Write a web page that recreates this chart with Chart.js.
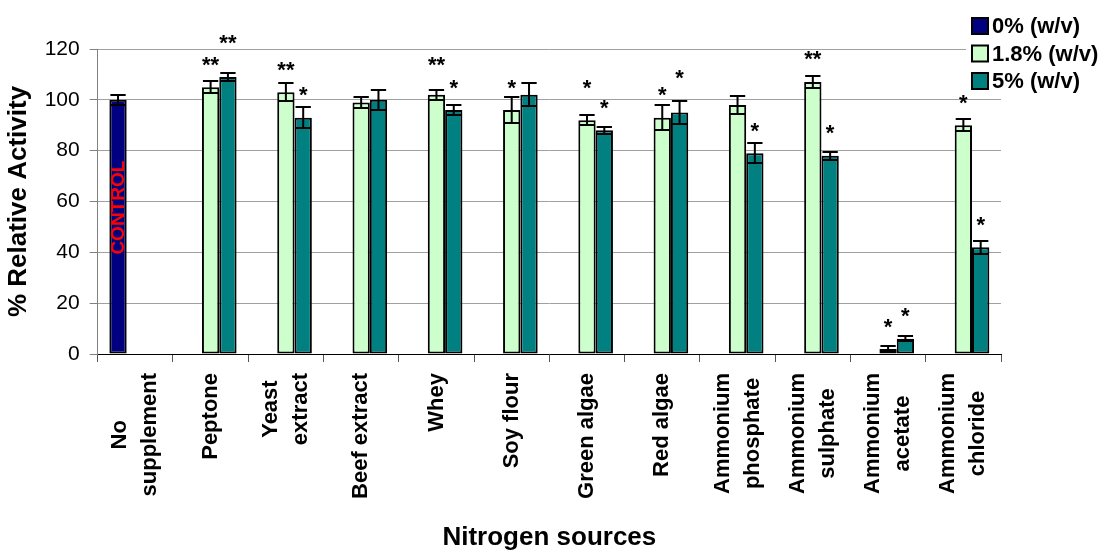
<!DOCTYPE html>
<html>
<head>
<meta charset="utf-8">
<title>Nitrogen sources – relative activity</title>
<script src="https://cdn.jsdelivr.net/npm/chart.js@4/dist/chart.umd.min.js"></script>
<style>
  html, body { margin: 0; padding: 0; background: #ffffff; }
  #wrap { width: 1105px; height: 553px; }
</style>
</head>
<body>
<div id="wrap"><canvas id="c" width="1105" height="553"></canvas></div>
<script>
// ---- data ----
const categories = [
  ["No", "supplement"], "Peptone", ["Yeast", "extract"], "Beef extract", "Whey",
  "Soy flour", "Green algae", "Red algae", ["Ammonium", "phosphate"],
  ["Ammonium", "sulphate"], ["Ammonium", "acetate"], ["Ammonium", "chloride"]
];
const seriesNames = ["0% (w/v)", "1.8% (w/v)", "5% (w/v)"];

const control    = [100, null, null, null, null, null, null, null, null, null, null, null];
const controlErr = [2,   null, null, null, null, null, null, null, null, null, null, null];

const conc18    = [null, 105, 103, 99, 102, 96, 92, 93, 98, 107, 2, 90];
const conc18Err = [null, 2.3, 3.5, 2.3, 2, 5, 2, 5, 3.5, 2.3, 1, 2.3];

const conc5    = [null, 109, 93, 100, 96, 102, 88, 95, 79, 78, 6, 42];
const conc5Err = [null, 1.5, 4, 4, 2, 4.5, 1.5, 4.7, 4, 1.5, 1, 2.5];

// significance marks above each bar
const sig0  = ["", "", "", "", "", "", "", "", "", "", "", ""];
const sig18 = ["", "**", "**", "", "**", "*", "*", "*", "", "**", "*", "*"];
const sig5  = ["", "**", "*", "", "*", "", "*", "*", "*", "*", "*", "*"];

const yTicks = [0, 20, 40, 60, 80, 100, 120];

// ---- styling ----
const FONT = '"Liberation Sans", Arial, Helvetica, sans-serif';
const colors = ["#000080", "#CCFFCC", "#008080"];

// gap (px) between the top of the error bar and each significance mark
const markGap = [
  [0, 0, 0, 0, 0, 0, 0, 0, 0, 0, 0, 0],
  [0, 22, 19, 0, 30, 15, 33, 16, 0, 23, 25, 22],
  [0, 36, 18, 0, 23, 0, 24, 28, 18, 25, 26, 22]
];

// error bars drawn over each bar
const errorBarsPlugin = {
  id: "errorBars",
  afterDatasetsDraw(chart) {
    const ctx = chart.ctx;
    const ys = chart.scales.y;
    ctx.save();
    ctx.strokeStyle = "#000";
    ctx.lineWidth = 2;
    chart.data.datasets.forEach((ds, i) => {
      const meta = chart.getDatasetMeta(i);
      meta.data.forEach((bar, j) => {
        const v = ds.data[j], e = ds.errors[j];
        if (v == null || e == null) return;
        const top = Math.round(ys.getPixelForValue(v + e));
        const bot = Math.round(ys.getPixelForValue(Math.max(v - e, 0)));
        const half = bar.width / 2 - 1;
        ctx.beginPath();
        ctx.moveTo(bar.x, top); ctx.lineTo(bar.x, bot);
        ctx.moveTo(bar.x - half, top); ctx.lineTo(bar.x + half, top);
        ctx.moveTo(bar.x - half, bot); ctx.lineTo(bar.x + half, bot);
        ctx.stroke();
      });
    });
    ctx.restore();
  }
};

// significance asterisks and the CONTROL tag inside the control bar
const marksPlugin = {
  id: "marks",
  afterDatasetsDraw(chart) {
    const ctx = chart.ctx;
    const ys = chart.scales.y;
    ctx.save();
    ctx.fillStyle = "#000";
    ctx.font = "bold 22px " + FONT;
    ctx.textAlign = "center";
    ctx.textBaseline = "alphabetic";
    chart.data.datasets.forEach((ds, i) => {
      const meta = chart.getDatasetMeta(i);
      meta.data.forEach((bar, j) => {
        const mark = ds.marks[j];
        if (!mark) return;
        const capY = ys.getPixelForValue(ds.data[j] + (ds.errors[j] || 0));
        const centerY = capY - markGap[i][j];
        ctx.fillText(mark, bar.x, centerY + 12.7);
      });
    });
    // CONTROL label, rotated, inside the first bar
    const bar = chart.getDatasetMeta(0).data[0];
    const cy = bar.y + (bar.base - bar.y) * 0.425;
    ctx.translate(bar.x + 1, cy);
    ctx.rotate(-Math.PI / 2);
    ctx.fillStyle = "#FF0000";
    ctx.font = "bold 19px " + FONT;
    ctx.textAlign = "center";
    ctx.textBaseline = "middle";
    ctx.fillText("CONTROL", 0, 0);
    ctx.restore();
  }
};

// vertical category labels: lines centred on each other and on the tick
const centredLabelsPlugin = {
  id: "centredLabels",
  beforeDraw(chart) {
    const sx = chart.scales.x;
    const items = sx.getLabelItems(chart.chartArea);
    const ctx = chart.ctx;
    items.forEach(item => {
      if (item._centred) return;
      const lines = Array.isArray(item.label) ? item.label : [item.label];
      ctx.save();
      ctx.font = item.font.string;
      const w = Math.max(...lines.map(l => ctx.measureText(l).width));
      ctx.restore();
      const lh = item.font.lineHeight;
      item.options.textAlign = "center";
      item.options.translation[1] += w / 2;
      item.options.translation[0] -= (lines.length - 1) * lh / 2;
      item._centred = true;
    });
  }
};

// legend box in the top-right corner
const legendPlugin = {
  id: "cornerLegend",
  afterDraw(chart) {
    const ctx = chart.ctx;
    ctx.save();
    ctx.fillStyle = "#fff";
    ctx.fillRect(966, 8, 139, 88);
    ctx.font = "bold 22px " + FONT;
    ctx.textBaseline = "middle";
    ctx.textAlign = "left";
    chart.data.datasets.forEach((ds, i) => {
      const cy = 26 + i * 27.5;
      ctx.fillStyle = ds.backgroundColor;
      ctx.fillRect(972, cy - 8, 16, 16);
      ctx.strokeStyle = "#000";
      ctx.lineWidth = 2;
      ctx.strokeRect(972, cy - 8, 16, 16);
      ctx.fillStyle = "#000";
      ctx.fillText(ds.label, 992, cy + 1);
    });
    ctx.restore();
  }
};

const ctx = document.getElementById("c").getContext("2d");
new Chart(ctx, {
  type: "bar",
  data: {
    labels: categories,
    datasets: [
      { label: seriesNames[0], data: control, errors: controlErr, marks: sig0, backgroundColor: colors[0] },
      { label: seriesNames[1], data: conc18, errors: conc18Err, marks: sig18, backgroundColor: colors[1] },
      { label: seriesNames[2], data: conc5, errors: conc5Err, marks: sig5, backgroundColor: colors[2] }
    ]
  },
  options: {
    responsive: false,
    animation: false,
    devicePixelRatio: 1,
    layout: { padding: { top: 49, right: 104, left: 0, bottom: 0 } },
    datasets: {
      bar: {
        borderColor: "#000",
        borderWidth: 2,
        borderSkipped: false,
        categoryPercentage: 0.69,
        barPercentage: 1
      }
    },
    plugins: {
      legend: { display: false },
      tooltip: { enabled: false }
    },
    scales: {
      x: {
        offset: true,
        grid: { display: true, drawOnChartArea: false, drawTicks: true, tickLength: 8, color: "#555", offset: true },
        border: { color: "#000", width: 1 },
        ticks: {
          color: "#000",
          autoSkip: false,
          minRotation: 90,
          maxRotation: 90,
          padding: 11,
          font: { family: FONT, size: 22, weight: "bold", lineHeight: 1.36 }
        },
        title: {
          display: true,
          text: "Nitrogen sources",
          color: "#000",
          font: { family: FONT, size: 26, weight: "bold", lineHeight: 1.2 },
          padding: { top: 0, bottom: 0 }
        },
        afterFit(scale) { scale.height = 199; }
      },
      y: {
        min: 0,
        max: 120,
        afterBuildTicks(scale) { scale.ticks = yTicks.map(v => ({ value: v })); },
        grid: {
          color: c => (c.tick && c.tick.value === 0 ? "rgba(0,0,0,0)" : "#a0a0a0"),
          tickColor: "#808080",
          tickLength: 8,
          lineWidth: 1
        },
        border: { color: "#808080", width: 1 },
        ticks: {
          color: "#000",
          padding: 10,
          font: { family: FONT, size: 21 }
        },
        title: {
          display: true,
          text: "% Relative Activity",
          color: "#000",
          font: { family: FONT, size: 26, weight: "bold", lineHeight: 1.2 },
          padding: { top: 3, bottom: 0 }
        },
        afterFit(scale) { scale.width = 97.7; }
      }
    }
  },
  plugins: [centredLabelsPlugin, errorBarsPlugin, marksPlugin, legendPlugin]
});
</script>
</body>
</html>
